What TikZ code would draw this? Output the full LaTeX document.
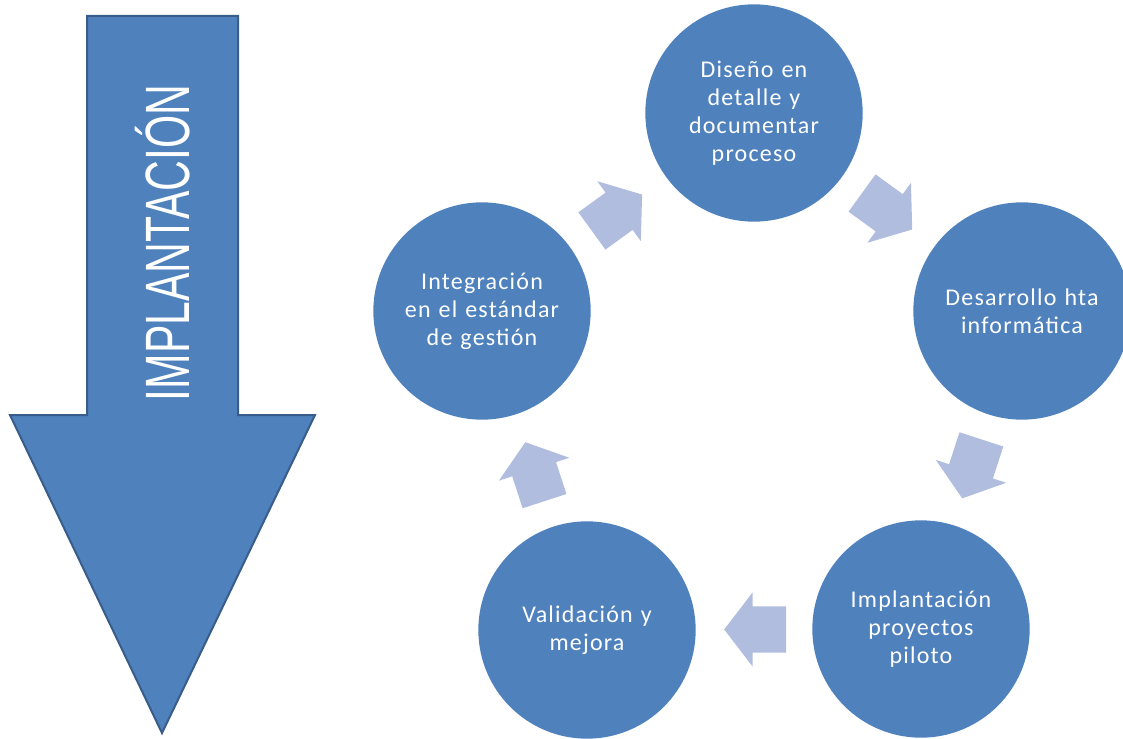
\documentclass[tikz,border=0pt]{standalone}
\usepackage{fontspec}
\setmainfont{Carlito}
\newfontfamily\arrowfont{Liberation Sans}
\usetikzlibrary{shapes.arrows,calc}

\definecolor{stepblue}{RGB}{79,129,189}
\definecolor{stepedge}{RGB}{56,93,138}
\definecolor{arrowblue}{RGB}{176,189,222}

\tikzset{every picture/.style={line width=0.75pt}}
\tikzset{
  stage/.style={circle, fill=stepblue, minimum size=163pt, inner sep=0pt,
    text=white, align=center, text width=120pt,
    font=\fontsize{18pt}{21pt}\selectfont\addfontfeature{LetterSpace=5}},
  cyclearrow/.style={single arrow, fill=arrowblue, inner xsep=0pt, inner ysep=16.9pt,
    minimum height=46.5pt,
    single arrow head extend=10.5pt, single arrow tip angle=105},
}

\begin{document}
\begin{tikzpicture}[x=0.75pt,y=0.75pt,yscale=-1,xscale=1]
\useasboundingbox (0,0) rectangle (1123,738);

%Shape: Down Arrow
\draw [color=stepedge, fill=stepblue, line width=1.5pt, line join=miter]
  (87,16) -- (238,16) -- (238,415) -- (315,415) -- (162,733) -- (10,415) -- (87,415) -- cycle ;
% Text Node
\node (fase) [rotate=90, text=white, inner sep=0pt] at (163,243)
  {\arrowfont\fontsize{47pt}{47pt}\selectfont\scalebox{0.68}[1]{IMPLANTACIÓN}};

%Shape: Circles
\node (diseno) [stage] at (754,113) {Diseño en\\detalle y\\documentar\\proceso};
\node (desarrollo) [stage] at (1022,311) {Desarrollo hta\\informática};
\node (piloto) [stage] at (921,629) {Implantación\\proyectos\\piloto};
\node (validacion) [stage] at (587,630) {Validación y\\mejora};
\node (integracion) [stage] at (482,311) {Integración\\en el estándar\\de gestión};

%Shape: Block Arrows
\node (a1) [cyclearrow, rotate=-36] at ($(diseno)!0.47!(desarrollo)$) {};
\node (a2) [cyclearrow, rotate=-108] at ($(desarrollo)!0.47!(piloto)$) {};
\node (a3) [cyclearrow, rotate=180] at ($(piloto)!0.47!(validacion)$) {};
\node (a4) [cyclearrow, rotate=108] at ($(validacion)!0.47!(integracion)$) {};
\node (a5) [cyclearrow, rotate=36] at ($(integracion)!0.47!(diseno)$) {};

\end{tikzpicture}
\end{document}
